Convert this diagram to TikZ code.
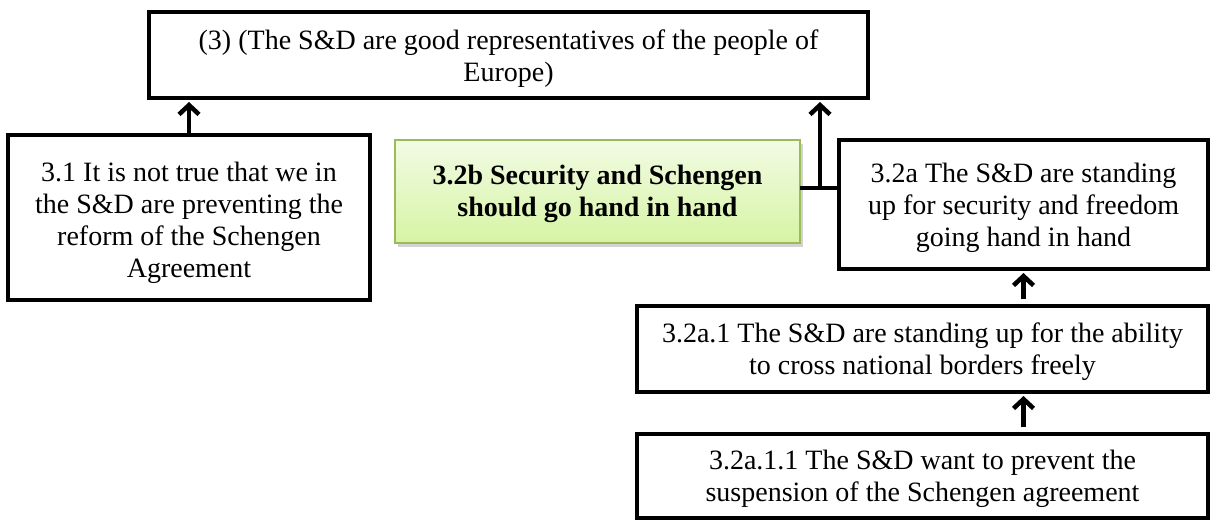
\documentclass[tikz,border=0pt]{standalone}
\usepackage{fontspec}
\setmainfont{Liberation Serif}
\usetikzlibrary{arrows.meta,shadows}
\definecolor{gtop}{RGB}{242,251,228}
\definecolor{gbot}{RGB}{214,244,164}
\definecolor{gborder}{RGB}{155,187,89}
\newcommand{\lowtxt}[2]{\raisebox{-#1}[\height][\depth]{\begin{tabular}{@{}c@{}}#2\end{tabular}}}
\tikzset{
  box/.style={draw=black, line width=3.3pt, fill=white, inner sep=0pt, outer sep=0pt, align=center, font=\fontsize{21}{24}\selectfont},
  greenbox/.style={draw=gborder, line width=1.5pt, top color=gtop, bottom color=gbot, inner sep=0pt, outer sep=0pt, align=center,
    font=\fontsize{21}{24}\selectfont\bfseries, drop shadow={shadow xshift=2pt, shadow yshift=-3pt, opacity=0.35, fill=gray}},
  link/.style={draw=black, line width=3.2pt},
  arr/.style={link, -{Straight Barb[length=7pt,width=15pt,line width=3.4pt]}, shorten >=3pt}
}
\begin{document}
\begin{tikzpicture}[x=0.75pt,y=-0.75pt]
\useasboundingbox (0,0) rectangle (1212,519);
\node[box, minimum width=539.25pt, minimum height=64.5pt] (top) at (508.5,55)
  {\lowtxt{3pt}{(3) (The S\&D are good representatives of the people of\\Europe)}};
\node[box, minimum width=271.5pt, minimum height=123.75pt] (b31) at (189,217.5)
  {\lowtxt{4pt}{3.1 It is not true that we in\\the S\&D are preventing the\\reform of the Schengen\\Agreement}};
\node[greenbox, minimum width=303.75pt, minimum height=77.25pt] (b32b) at (597.5,191.5)
  {\lowtxt{2pt}{3.2b Security and Schengen\\should go hand in hand}};
\node[box, minimum width=276.75pt, minimum height=96.75pt] (b32a) at (1023.5,204.5)
  {\lowtxt{3pt}{3.2a The S\&D are standing\\up for security and freedom\\going hand in hand}};
\node[box, minimum width=428.25pt, minimum height=64.5pt] (b32a1) at (922.5,349)
  {\lowtxt{2pt}{3.2a.1 The S\&D are standing up for the ability\\to cross national borders freely}};
\node[box, minimum width=428.25pt, minimum height=63pt] (b32a11) at (922.5,476)
  {\lowtxt{2pt}{3.2a.1.1 The S\&D want to prevent the\\suspension of the Schengen agreement}};
\coordinate (j) at (820,188);
\draw[arr] (b31.north) -- (b31.north |- top.south);
\draw[link] (b32b.east |- j) -- (b32a.west |- j);
\draw[arr] (j) -- (j |- top.south);
\draw[arr, shorten <=5pt] (b32a1.north -| b32a.south) -- (b32a.south);
\draw[arr, shorten <=5pt] (b32a11.north -| b32a.south) -- (b32a1.south -| b32a.south);
\end{tikzpicture}
\end{document}
